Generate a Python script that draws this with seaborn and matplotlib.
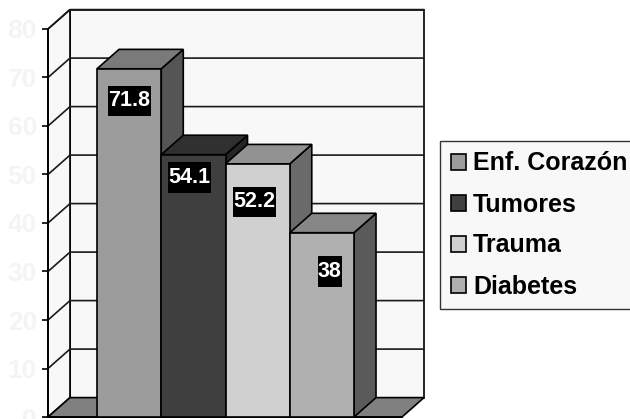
import matplotlib
matplotlib.use('Agg')
import matplotlib.pyplot as plt
import pandas as pd
import seaborn as sns
from matplotlib.patches import Polygon
from matplotlib.path import Path

# datos
categorias = ['Enf. Corazón', 'Tumores', 'Trauma', 'Diabetes']
valores = [71.8, 54.1, 52.2, 38]
etiquetas = ['71.8', '54.1', '52.2', '38']
ticks_y = [0, 10, 20, 30, 40, 50, 60, 70, 80]

# colores de cada barra: frente, tapa, costado
frente = ['#9c9c9c', '#3f3f3f', '#d0d0d0', '#b0b0b0']
tapa = ['#7a7a7a', '#303030', '#929292', '#878787']
costado = ['#555555', '#252525', '#6a6a6a', '#5a5a5a']

# desplazamiento de las etiquetas respecto a la tapa (en pixeles)
offset_x = [0, -4, -3, 8]
offset_y = [-32, -23, -38, -39]

# profundidad falsa 3D, en unidades de datos
DX = 22 / 64.25
DY = 4.0
X_MIN, X_MAX = -1.263, 4.247


# caja negra alta y angosta detras de los numeros
def caja(x0, y0, w, h, mutation_size):
    px = 0.02 * mutation_size
    py = 0.22 * mutation_size
    x1, y1 = x0 + w + px, y0 + h + py
    x0, y0 = x0 - px, y0 - py
    return Path([(x0, y0), (x1, y0), (x1, y1), (x0, y1), (x0, y0)], closed=True)


sns.set_style('white')
plt.rcParams['font.family'] = ['Liberation Sans', 'DejaVu Sans']
plt.rcParams['font.weight'] = 'bold'
plt.rcParams['text.color'] = 'black'

df = pd.DataFrame({'causa': categorias, 'valor': valores})

fig = plt.figure(figsize=(6.3, 4.19), dpi=100)
ax = fig.add_axes([48 / 630, 2 / 419, 354 / 630, 388 / 419])
ax.patch.set_visible(False)

sns.barplot(data=df, x='causa', y='valor', hue='causa', hue_order=categorias,
            palette=frente, width=1, saturation=1, edgecolor='black',
            linewidth=1.2, legend=True, ax=ax)

ax.set_xlim(X_MIN, X_MAX)
ax.set_ylim(0, 80)
ax.set_xlabel('')
ax.set_ylabel('')
ax.set_xticks([])
ax.set_yticks(ticks_y)
ax.set_yticklabels([str(t) for t in ticks_y], color='#f4f4f4', fontsize=19,
                   fontweight='bold')
ax.tick_params(axis='y', left=True, length=4, width=1.2, color='black', pad=4)
sns.despine(ax=ax, top=True, right=True)
for s in ['left', 'bottom']:
    ax.spines[s].set_color('black')
    ax.spines[s].set_linewidth(1.3)

# paredes y piso
pared = '#f8f8f8'
izq = X_MIN + DX
der = X_MAX + DX
ax.add_patch(Polygon([(izq, DY), (der, DY), (der, 80 + DY), (izq, 80 + DY)], closed=True,
                     facecolor=pared, edgecolor='black', linewidth=1.2, clip_on=False, zorder=0.5))
ax.add_patch(Polygon([(X_MIN, 0), (izq, DY), (izq, 80 + DY), (X_MIN, 80)], closed=True,
                     facecolor=pared, edgecolor='black', linewidth=1.2, clip_on=False, zorder=0.6))
ax.add_patch(Polygon([(X_MIN, 0), (X_MAX, 0), (der, DY), (izq, DY)], closed=True,
                     facecolor='#808080', edgecolor='black', linewidth=1.2, clip_on=False, zorder=0.7))

# lineas de la cuadricula
for t in ticks_y[1:]:
    ax.plot([X_MIN, izq, der], [t, t + DY, t + DY], color='#1a1a1a', linewidth=1.2,
            clip_on=False, zorder=1)

# tapas y costados de cada barra
for i, barra in enumerate(ax.patches[:len(valores)]):
    x0 = barra.get_x()
    x1 = x0 + barra.get_width()
    h = barra.get_height()
    barra.set_zorder(3 + i)
    ax.add_patch(Polygon([(x1, 0), (x1 + DX, DY), (x1 + DX, h + DY), (x1, h)], closed=True,
                         facecolor=costado[i], edgecolor='black', linewidth=1.2,
                         clip_on=False, zorder=2.5 + i))
    ax.add_patch(Polygon([(x0, h), (x1, h), (x1 + DX, h + DY), (x0 + DX, h + DY)], closed=True,
                         facecolor=tapa[i], edgecolor='black', linewidth=1.2,
                         clip_on=False, zorder=2.6 + i))
    ax.annotate(etiquetas[i], xy=(i, h), xytext=(offset_x[i] * 0.72, offset_y[i] * 0.72),
                textcoords='offset points', ha='center', va='center', color='white',
                fontsize=15.5, fontweight='bold', zorder=20,
                bbox=dict(boxstyle=caja, facecolor='black', edgecolor='none'))

# leyenda
sns.move_legend(ax, 'upper left', bbox_to_anchor=(440 / 630, 1 - 141 / 419),
                bbox_transform=fig.transFigure, title=None, frameon=True, fancybox=False,
                fontsize=18, facecolor=pared, edgecolor='#333333', framealpha=1,
                borderpad=0.42, labelspacing=0.68, handlelength=0.6, handleheight=0.6,
                handletextpad=0.3, borderaxespad=0)
for t in ax.get_legend().get_texts():
    t.set_fontweight('bold')
    t.set_color('black')
ax.get_legend().set_zorder(30)

fig.savefig('out.png', dpi=100)
